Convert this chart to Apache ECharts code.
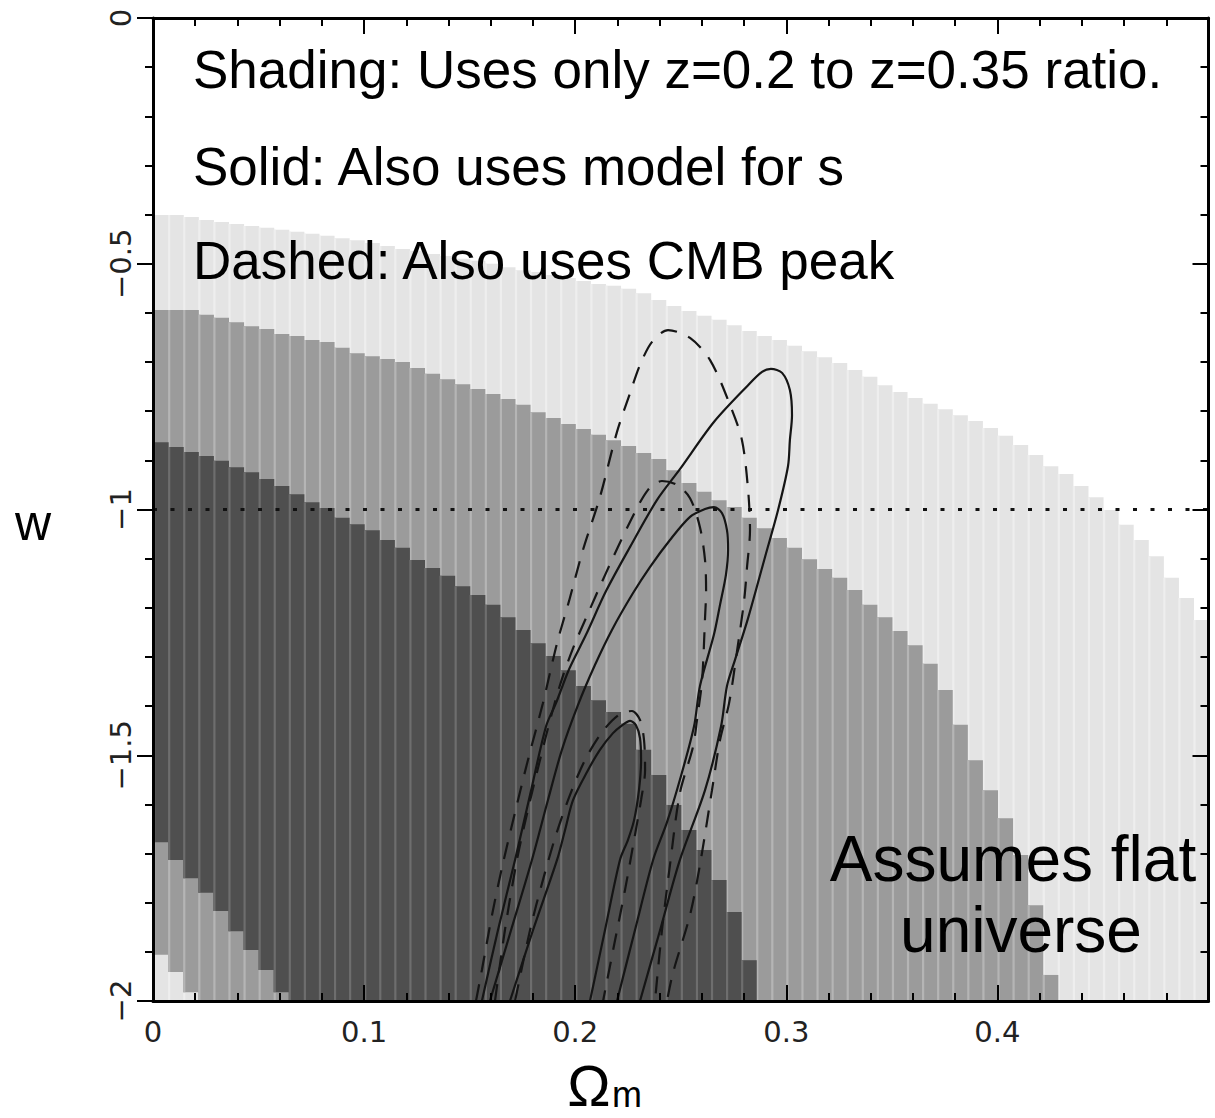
<!DOCTYPE html>
<html>
<head>
<meta charset="utf-8">
<title>Ωm – w constraints</title>
<script src="https://cdn.jsdelivr.net/npm/echarts@6/dist/echarts.min.js"></script>
<style>
  html, body { margin: 0; padding: 0; background: #fff; }
  #chart { width: 1215px; height: 1118px; }
</style>
</head>
<body>
<div id="chart"></div>
<script>
// Ωm grid of the likelihood map: each column is 1/140 wide
const COLUMN_WIDTH = 1 / 140;
const OMEGA_MIN = 0, OMEGA_MAX = 0.5;
const W_MIN = -2, W_MAX = 0;

// Upper edge (w) of each shaded band, one entry per Ωm column (null = band absent)
const lightTop = [
  -0.401, -0.401, -0.405, -0.411, -0.415, -0.419, -0.423, -0.427, -0.431, -0.435,
  -0.439, -0.443, -0.448, -0.452, -0.458, -0.464, -0.470, -0.474, -0.480, -0.484,
  -0.490, -0.494, -0.500, -0.507, -0.513, -0.517, -0.523, -0.529, -0.535, -0.541,
  -0.545, -0.551, -0.560, -0.574, -0.586, -0.596, -0.606, -0.614, -0.625, -0.637,
  -0.647, -0.655, -0.667, -0.678, -0.690, -0.702, -0.716, -0.730, -0.747, -0.761,
  -0.773, -0.785, -0.796, -0.808, -0.820, -0.834, -0.850, -0.869, -0.889, -0.912,
  -0.928, -0.952, -0.975, -1.001, -1.031, -1.062, -1.095, -1.139, -1.180, -1.225
];
const midTop = [
  -0.594, -0.594, -0.594, -0.604, -0.610, -0.619, -0.627, -0.633, -0.643, -0.647,
  -0.655, -0.659, -0.671, -0.682, -0.688, -0.694, -0.700, -0.712, -0.724, -0.735,
  -0.745, -0.755, -0.765, -0.775, -0.787, -0.802, -0.814, -0.826, -0.836, -0.848,
  -0.859, -0.871, -0.885, -0.897, -0.920, -0.946, -0.964, -0.981, -0.995, -1.017,
  -1.038, -1.058, -1.078, -1.101, -1.121, -1.139, -1.164, -1.194, -1.219, -1.247,
  -1.276, -1.314, -1.367, -1.438, -1.510, -1.571, -1.628, -1.703, -1.805, -1.947,
  null, null, null, null, null, null, null, null, null, null
];
const darkTop = [
  -0.863, -0.873, -0.883, -0.891, -0.901, -0.914, -0.924, -0.938, -0.952, -0.969,
  -0.985, -0.997, -1.017, -1.030, -1.042, -1.062, -1.078, -1.103, -1.119, -1.135,
  -1.156, -1.174, -1.194, -1.219, -1.245, -1.272, -1.298, -1.327, -1.359, -1.388,
  -1.412, -1.436, -1.489, -1.540, -1.601, -1.652, -1.693, -1.754, -1.819, -1.917
];
// Lower edges in the bottom-left corner, where the bands wrap round (missing = reaches w = -2)
const darkBottom = [-1.677, -1.713, -1.750, -1.780, -1.817, -1.858, -1.896, -1.937, -1.982];
const midBottom = [-1.906, -1.941, -1.982];

// Contours, as [Ωm, w] points along each curve
const solidOuter = [
  [0.1558, -2], [0.1634, -1.856], [0.1715, -1.713], [0.1786, -1.581], [0.1862, -1.441],
  [0.1909, -1.394], [0.1971, -1.325], [0.2051, -1.255], [0.2146, -1.166], [0.2260, -1.076],
  [0.2387, -0.981], [0.2496, -0.918], [0.2657, -0.822], [0.2819, -0.747], [0.2885, -0.720],
  [0.2927, -0.714], [0.2980, -0.722], [0.3017, -0.757], [0.3027, -0.808], [0.3017, -0.859],
  [0.3008, -0.912], [0.2961, -1.001], [0.2899, -1.097], [0.2819, -1.221], [0.2757, -1.306],
  [0.2719, -1.359], [0.2691, -1.441], [0.2615, -1.571], [0.2496, -1.713], [0.2402, -1.856],
  [0.2307, -2]
];
const solidMiddle = [
  [0.1596, -2], [0.1696, -1.856], [0.1795, -1.713], [0.1871, -1.591], [0.1937, -1.489],
  [0.2013, -1.398], [0.2094, -1.316], [0.2174, -1.245], [0.2274, -1.170], [0.2354, -1.117],
  [0.2449, -1.062], [0.2544, -1.015], [0.2615, -0.999], [0.2657, -0.995], [0.2695, -1.007],
  [0.2719, -1.042], [0.2724, -1.082], [0.2714, -1.133], [0.2686, -1.194], [0.2657, -1.255],
  [0.2591, -1.359], [0.2563, -1.441], [0.2496, -1.550], [0.2435, -1.636], [0.2369, -1.713],
  [0.2283, -1.856], [0.2198, -2]
];
const solidInner = [
  [0.1691, -2], [0.1800, -1.856], [0.1914, -1.713], [0.1952, -1.652], [0.1990, -1.591],
  [0.2056, -1.534], [0.2117, -1.489], [0.2179, -1.455], [0.2222, -1.439], [0.2260, -1.430],
  [0.2288, -1.439], [0.2307, -1.465], [0.2312, -1.510], [0.2302, -1.571], [0.2279, -1.632],
  [0.2250, -1.672], [0.2212, -1.713], [0.2141, -1.856], [0.2070, -2]
];
const dashedOuter = [
  [0.1530, -2], [0.1558, -1.937], [0.1606, -1.825], [0.1653, -1.729], [0.1715, -1.616],
  [0.1776, -1.510], [0.1847, -1.394], [0.1914, -1.272], [0.1971, -1.186], [0.2037, -1.082],
  [0.2117, -0.975], [0.2198, -0.842], [0.2260, -0.763], [0.2307, -0.706], [0.2364, -0.659],
  [0.2440, -0.635], [0.2544, -0.651], [0.2639, -0.696], [0.2733, -0.787], [0.2790, -0.859],
  [0.2819, -0.960], [0.2828, -1.042], [0.2814, -1.117], [0.2800, -1.186], [0.2766, -1.290],
  [0.2729, -1.394], [0.2686, -1.469], [0.2648, -1.571], [0.2591, -1.723], [0.2544, -1.825],
  [0.2463, -1.943], [0.2435, -2]
];
const dashedMiddle = [
  [0.1620, -2], [0.1667, -1.856], [0.1724, -1.713], [0.1776, -1.611], [0.1833, -1.510],
  [0.1890, -1.414], [0.1937, -1.345], [0.1990, -1.282], [0.2051, -1.221], [0.2146, -1.129],
  [0.2260, -1.025], [0.2345, -0.960], [0.2411, -0.942], [0.2482, -0.950], [0.2544, -0.977],
  [0.2591, -1.036], [0.2615, -1.103], [0.2620, -1.164], [0.2615, -1.221], [0.2601, -1.347],
  [0.2577, -1.428], [0.2558, -1.483], [0.2496, -1.577], [0.2449, -1.723], [0.2411, -1.856],
  [0.2378, -2]
];
const dashedInner = [
  [0.1715, -2], [0.1786, -1.856], [0.1847, -1.754], [0.1909, -1.662], [0.1975, -1.581],
  [0.2046, -1.510], [0.2117, -1.459], [0.2174, -1.430], [0.2222, -1.414], [0.2269, -1.410],
  [0.2307, -1.428], [0.2326, -1.469], [0.2331, -1.530], [0.2312, -1.591], [0.2279, -1.672],
  [0.2236, -1.774], [0.2189, -1.876], [0.2132, -2]
];

// Fiducial w = -1 (cosmological constant)
const lambdaW = -1;

// Tick labels
const xTickValues = [0, 0.1, 0.2, 0.3, 0.4];
const xTickLabels = ['0', '0.1', '0.2', '0.3', '0.4'];
const yTickValues = [0, -0.5, -1, -1.5, -2];
const yTickLabels = ['0', '\u22120.5', '\u22121', '\u22121.5', '\u22122'];

function pickLabel(values, labels, v) {
  for (let i = 0; i < values.length; i++) {
    if (Math.abs(values[i] - v) < 1e-6) return labels[i];
  }
  return '';
}

// One custom series per shaded band: a filled column with a lighter seam on its left edge
function bandSeries(name, tops, bottoms, fill, seam) {
  const data = [];
  tops.forEach((top, i) => {
    if (top == null) return;
    const bottom = bottoms && bottoms[i] != null ? bottoms[i] : W_MIN;
    data.push([(i + 0.5) * COLUMN_WIDTH, top, bottom]);
  });
  return {
    type: 'custom',
    name: name,
    data: data,
    silent: true,
    clip: true,
    z: 1,
    encode: { x: 0, y: [1, 2] },
    renderItem: function (params, api) {
      const x = api.value(0);
      const tl = api.coord([x - COLUMN_WIDTH / 2, api.value(1)]);
      const br = api.coord([x + COLUMN_WIDTH / 2, api.value(2)]);
      const w = br[0] - tl[0];
      const h = br[1] - tl[1];
      return {
        type: 'group',
        children: [
          { type: 'rect', shape: { x: tl[0], y: tl[1], width: w + 0.6, height: h }, style: { fill: fill } },
          { type: 'rect', shape: { x: tl[0], y: tl[1], width: 2.2, height: h }, style: { fill: seam } }
        ]
      };
    }
  };
}

function contourSeries(name, points, dashed) {
  return {
    type: 'line',
    name: name,
    data: points,
    symbol: 'none',
    smooth: 0.3,
    clip: true,
    silent: true,
    z: 5,
    lineStyle: { color: '#151515', width: 2.2, type: dashed ? [17, 12] : 'solid' }
  };
}

const tickFont = { fontFamily: '"DejaVu Sans", sans-serif', fontSize: 29, color: '#222' };

// Frame axes: line plus major and minor ticks pointing into the plot, no labels
function frameAxis(position, min, max, interval, ticksInside) {
  return {
    type: 'value', position: position, min: min, max: max, interval: interval,
    gridIndex: 0, z: 10,
    axisLine: { show: true, onZero: false, lineStyle: { color: '#000', width: 3 } },
    axisTick: { show: true, inside: ticksInside, length: 16, lineStyle: { color: '#000', width: 2 } },
    minorTick: { show: true, splitNumber: 5, length: 8, lineStyle: { color: '#000', width: 2 } },
    splitLine: { show: false },
    axisLabel: { show: false }
  };
}

// Label-only axes on an overlaid grid
function labelAxis(position, min, max, interval, labelCfg) {
  return {
    type: 'value', position: position, min: min, max: max, interval: interval,
    gridIndex: 1,
    axisLine: { show: false, onZero: false },
    axisTick: { show: false },
    minorTick: { show: false },
    splitLine: { show: false },
    axisLabel: Object.assign({ show: true }, tickFont, labelCfg)
  };
}

const textFont = '"Liberation Sans", Arial, sans-serif';
const plotRect = { left: 153, top: 18, width: 1055.5, height: 983, containLabel: false };

const chart = echarts.init(document.getElementById('chart'), null, { renderer: 'svg' });
chart.setOption({
  animation: false,
  backgroundColor: '#fff',
  grid: [Object.assign({}, plotRect), Object.assign({}, plotRect)],
  xAxis: [
    frameAxis('bottom', OMEGA_MIN, OMEGA_MAX, 0.1, true),
    frameAxis('top', OMEGA_MIN, OMEGA_MAX, 0.1, true),
    labelAxis('bottom', OMEGA_MIN, OMEGA_MAX, 0.1, {
      margin: 16, showMaxLabel: false,
      formatter: v => pickLabel(xTickValues, xTickLabels, v)
    })
  ],
  yAxis: [
    frameAxis('left', W_MIN, W_MAX, 0.5, false),
    frameAxis('right', W_MIN, W_MAX, 0.5, true),
    labelAxis('left', W_MIN, W_MAX, 0.5, {
      margin: 18, rotate: 90,
      formatter: v => pickLabel(yTickValues, yTickLabels, v)
    })
  ],
  series: [
    bandSeries('light', lightTop, null, '#e4e4e4', '#eeeeee'),
    bandSeries('mid', midTop, midBottom, '#9b9b9b', '#b5b5b5'),
    bandSeries('dark', darkTop, darkBottom, '#4f4f4f', '#6e6e6e'),
    {
      type: 'line', name: 'w = -1', data: [[OMEGA_MIN, lambdaW], [OMEGA_MAX, lambdaW]],
      symbol: 'none', silent: true, z: 4,
      lineStyle: { color: '#111', width: 3, type: [4, 13.5] }
    },
    contourSeries('solid outer', solidOuter, false),
    contourSeries('solid middle', solidMiddle, false),
    contourSeries('solid inner', solidInner, false),
    contourSeries('dashed outer', dashedOuter, true),
    contourSeries('dashed middle', dashedMiddle, true),
    contourSeries('dashed inner', dashedInner, true)
  ],
  graphic: [
    { type: 'text', x: 193, y: 69, z: 20, style: { text: 'Shading: Uses only z=0.2 to z=0.35 ratio.', font: '53px ' + textFont, fill: '#000', verticalAlign: 'middle' } },
    { type: 'text', x: 193, y: 166, z: 20, style: { text: 'Solid: Also uses model for s', font: '53px ' + textFont, fill: '#000', verticalAlign: 'middle' } },
    { type: 'text', x: 193, y: 260, z: 20, style: { text: 'Dashed: Also uses CMB peak', font: '53px ' + textFont, fill: '#000', verticalAlign: 'middle' } },
    { type: 'text', x: 1013, y: 859, z: 20, style: { text: 'Assumes flat', font: '64px ' + textFont, fill: '#000', align: 'center', verticalAlign: 'middle' } },
    { type: 'text', x: 1021, y: 930, z: 20, style: { text: 'universe', font: '64px ' + textFont, fill: '#000', align: 'center', verticalAlign: 'middle' } },
    { type: 'text', x: 33, y: 523, z: 20, style: { text: 'w', font: '50px ' + textFont, fill: '#000', align: 'center', verticalAlign: 'middle' } },
    { type: 'text', x: 589, y: 1085, z: 20, style: { text: 'Ω', font: '58px ' + textFont, fill: '#000', align: 'center', verticalAlign: 'middle' } },
    { type: 'text', x: 612, y: 1094, z: 20, style: { text: 'm', font: '36px ' + textFont, fill: '#000', align: 'left', verticalAlign: 'middle' } }
  ]
});
</script>
</body>
</html>
